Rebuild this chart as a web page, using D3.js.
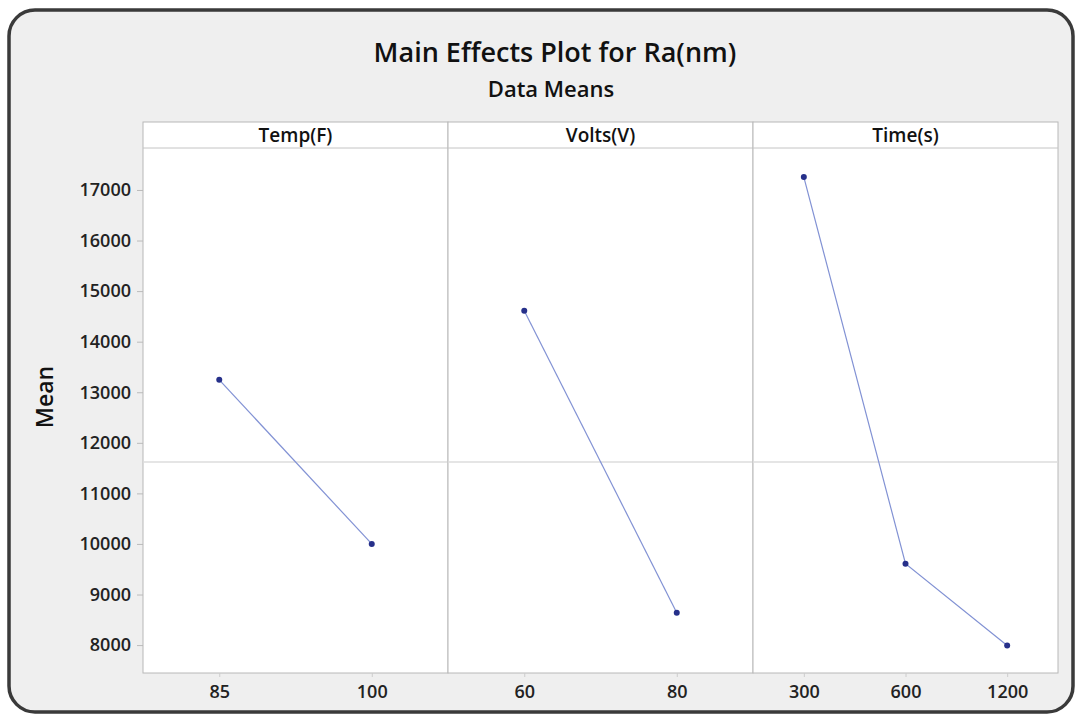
<!DOCTYPE html>
<html lang="en">
<head>
    <meta charset="UTF-8">
    <script src="https://d3js.org/d3.v7.min.js"></script>
    <title>Main Effects Plot for Ra(nm)</title>
    <style>
        html, body {
            margin: 0;
            padding: 0;
            background-color: #ffffff;
            font-family: "Open Sans", sans-serif;
        }
    </style>
</head>
<body>
    <div id="chart"></div>
    <script>
        // factors and their level means
        const factors = ["Temp(F)", "Volts(V)", "Time(s)"];
        const tempLevels = ["85", "100"];
        const tempMeans = [13245, 10000];
        const voltLevels = ["60", "80"];
        const voltMeans = [14610, 8640];
        const timeLevels = ["300", "600", "1200"];
        const timeMeans = [17255, 9610, 7990];
        const grandMean = 11620;
        const yTicks = [8000, 9000, 10000, 11000, 12000, 13000, 14000, 15000, 16000, 17000];

        const panels = [
            {name: factors[0], levels: tempLevels, means: tempMeans},
            {name: factors[1], levels: voltLevels, means: voltMeans},
            {name: factors[2], levels: timeLevels, means: timeMeans}
        ];

        const width = 1079, height = 715;
        const plotLeft = 143, plotRight = 1058, plotTop = 122, stripH = 26, plotBottom = 673;
        const panelW = (plotRight - plotLeft) / panels.length;

        const svg = d3.select('#chart').append('svg')
            .attr('width', width).attr('height', height);

        // frame
        svg.append('rect')
            .attr('x', 9).attr('y', 10)
            .attr('width', 1064).attr('height', 702)
            .attr('rx', 26).attr('ry', 26)
            .attr('fill', '#efefef')
            .attr('stroke', '#3a3a3a')
            .attr('stroke-width', 3.5);

        svg.append('text')
            .attr('x', 555).attr('y', 62)
            .attr('text-anchor', 'middle')
            .attr('font-size', 27).attr('font-weight', 600)
            .attr('fill', '#111')
            .text('Main Effects Plot for Ra(nm)');

        svg.append('text')
            .attr('x', 551).attr('y', 97)
            .attr('text-anchor', 'middle')
            .attr('font-size', 22).attr('font-weight', 600)
            .attr('fill', '#111')
            .text('Data Means');

        let y = d3.scaleLinear()
            .domain([7448, 17830])
            .range([plotBottom, plotTop + stripH]);

        // y axis
        let yAxis = svg.append('g')
            .attr('transform', `translate(${plotLeft},0)`)
            .call(d3.axisLeft(y).tickValues(yTicks).tickSize(6).tickPadding(6).tickFormat(d3.format('d')));
        yAxis.select('.domain').remove();
        yAxis.selectAll('line').attr('stroke', '#bbb');
        yAxis.selectAll('text')
            .attr('font-size', 18).attr('font-weight', 600)
            .attr('fill', '#222')
            .attr('font-family', '"Open Sans", sans-serif');

        svg.append('text')
            .attr('transform', `translate(53,397) rotate(-90)`)
            .attr('text-anchor', 'middle')
            .attr('font-size', 23).attr('font-weight', 600)
            .attr('fill', '#111')
            .text('Mean');

        panels.forEach((p, i) => {
            let x0 = plotLeft + i * panelW;
            let g = svg.append('g').attr('transform', `translate(${x0},0)`);

            let x = d3.scalePoint()
                .domain(p.levels)
                .range([0, panelW])
                .padding(0.5);

            g.append('rect')
                .attr('x', 0).attr('y', plotTop)
                .attr('width', panelW).attr('height', plotBottom - plotTop)
                .attr('fill', '#ffffff')
                .attr('stroke', '#b8b8b8').attr('stroke-width', 1);

            g.append('line')
                .attr('x1', 0).attr('x2', panelW)
                .attr('y1', plotTop + stripH).attr('y2', plotTop + stripH)
                .attr('stroke', '#c4c4c4');

            g.append('text')
                .attr('x', panelW / 2).attr('y', plotTop + 20)
                .attr('text-anchor', 'middle')
                .attr('font-size', 19).attr('font-weight', 600)
                .attr('fill', '#111')
                .text(p.name);

            // grand mean reference line
            g.append('line')
                .attr('x1', 0).attr('x2', panelW)
                .attr('y1', y(grandMean)).attr('y2', y(grandMean))
                .attr('stroke', '#dcdcdc').attr('stroke-width', 1.5);

            let xAxis = g.append('g')
                .attr('transform', `translate(0,${plotBottom})`)
                .call(d3.axisBottom(x).tickSize(4).tickPadding(8));
            xAxis.select('.domain').remove();
            xAxis.selectAll('line').attr('stroke', '#ccc');
            xAxis.selectAll('text')
                .attr('font-size', 18).attr('font-weight', 600)
                .attr('fill', '#222')
                .attr('font-family', '"Open Sans", sans-serif');

            let pts = p.levels.map((l, j) => [x(l), y(p.means[j])]);

            g.append('path')
                .attr('d', d3.line()(pts))
                .attr('fill', 'none')
                .attr('stroke', '#8292d4')
                .attr('stroke-width', 1.2);

            g.selectAll('circle')
                .data(pts)
                .join('circle')
                .attr('cx', d => d[0]).attr('cy', d => d[1])
                .attr('r', 3)
                .attr('fill', '#26308a');
        });
    </script>
</body>
</html>
